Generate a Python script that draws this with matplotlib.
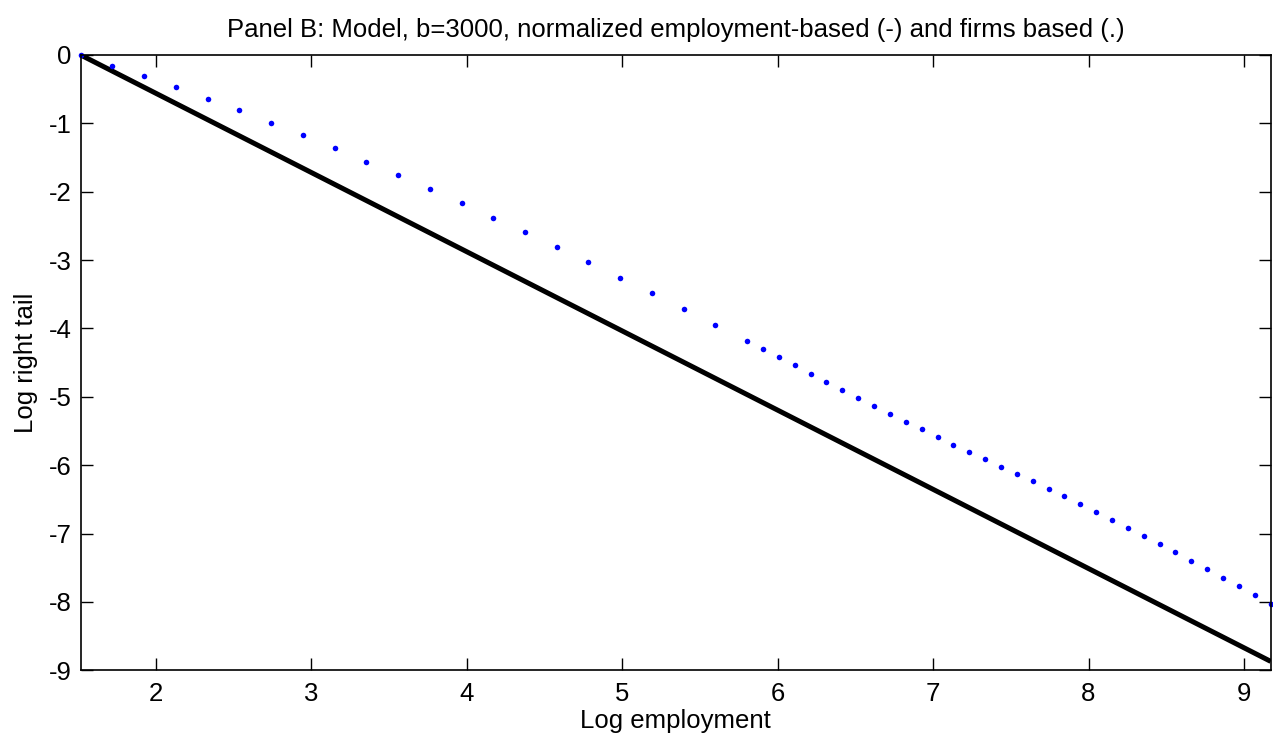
import matplotlib
matplotlib.use("Agg")
import matplotlib.pyplot as plt

plt.rcParams['font.family'] = ['Liberation Sans', 'DejaVu Sans']

# Employment-based (solid line) endpoints
line_x = [1.517, 9.172]
line_y = [0.0, -8.87]

# Firm-based (dotted) points
dots_x = [1.517, 1.721, 1.925, 2.129, 2.333, 2.537, 2.741, 2.946, 3.150, 3.354,
          3.558, 3.762, 3.967, 4.171, 4.375, 4.579, 4.783, 4.987, 5.191, 5.396,
          5.600, 5.804,
          5.906, 6.008, 6.110, 6.212, 6.314, 6.416, 6.518, 6.620, 6.722, 6.825,
          6.927, 7.029, 7.131, 7.233, 7.335, 7.437, 7.539, 7.641, 7.743, 7.845,
          7.947, 8.049, 8.151, 8.253, 8.355, 8.457, 8.559, 8.661, 8.763, 8.865,
          8.967, 9.070, 9.172]
dots_y = [0.0, -0.156, -0.307, -0.468, -0.639, -0.809, -0.990, -1.174, -1.365, -1.561,
          -1.760, -1.960, -2.169, -2.380, -2.593, -2.813, -3.032, -3.257, -3.485, -3.715,
          -3.949, -4.183,
          -4.304, -4.422, -4.538, -4.661, -4.778, -4.900, -5.017, -5.134, -5.251, -5.363,
          -5.475, -5.587, -5.700, -5.807, -5.913, -6.022, -6.128, -6.235, -6.343, -6.455,
          -6.567, -6.680, -6.797, -6.914, -7.031, -7.152, -7.274, -7.397, -7.522, -7.645,
          -7.771, -7.898, -8.025]

x_ticks = [2, 3, 4, 5, 6, 7, 8, 9]
y_ticks = [0, -1, -2, -3, -4, -5, -6, -7, -8, -9]

FS = 18.5

fig = plt.figure(figsize=(12.73, 7.44), dpi=100)
ax = fig.add_axes([0.0634, 0.0991, 0.9348, 0.827])
ax.plot(line_x, line_y, color='black', lw=3.6, solid_capstyle='butt', clip_on=True)
ax.plot(dots_x, dots_y, linestyle='none', marker='o', ms=4.0, color='#0000ff',
        markeredgewidth=0, clip_on=False)
ax.set_xlim(1.517, 9.172)
ax.set_ylim(-9, 0)
ax.set_xticks(x_ticks)
ax.set_yticks(y_ticks)
ax.set_xticklabels([str(v) for v in x_ticks])
ax.set_yticklabels([str(v) for v in y_ticks])
ax.tick_params(direction='in', length=8.5, width=1, top=True, right=True,
               labelsize=FS)
ax.tick_params(axis='x', pad=8.5)
ax.tick_params(axis='y', pad=6.5)
for s in ax.spines.values():
    s.set_linewidth(1.2)
ax.set_xlabel('Log employment', fontsize=FS, labelpad=2)
ax.set_ylabel('Log right tail', fontsize=FS, labelpad=8)
ax.set_title('Panel B: Model, b=3000, normalized employment-based (-) and firms based (.)',
             fontsize=FS, pad=13)
fig.savefig('out.png', dpi=100)
